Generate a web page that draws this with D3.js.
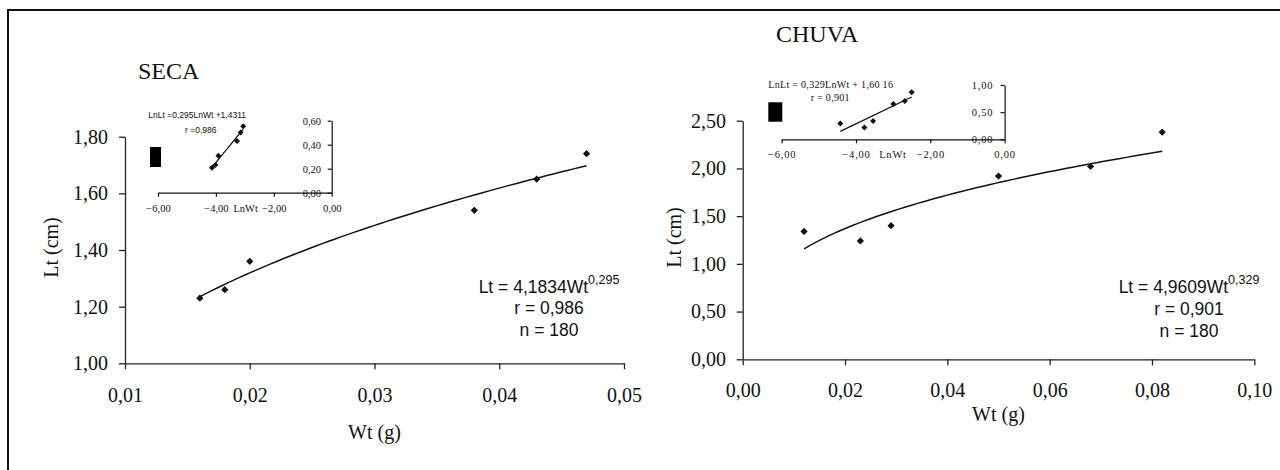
<!DOCTYPE html>
<html>
<head>
<meta charset="utf-8">
<script src="https://cdn.jsdelivr.net/npm/d3@7"></script>
<style>
  body { margin: 0; background: #fff; }
  svg { display: block; }
</style>
</head>
<body>
<div id="chart"></div>
<script>
// data (Wt in g, Lt in cm)
const secaWt = [0.016, 0.018, 0.020, 0.038, 0.043, 0.047];
const secaLt = [1.23, 1.26, 1.36, 1.54, 1.65, 1.74];
const chuvaWt = [0.012, 0.023, 0.029, 0.050, 0.068, 0.082];
const chuvaLt = [1.34, 1.24, 1.40, 1.92, 2.02, 2.38];

// power fits Lt = a * Wt^b, and ln form LnLt = b*LnWt + lnA
const secaFit = [4.1834, 0.295, 1.4311];
const chuvaFit = [4.9609, 0.329, 1.6016];

const secaXTicks = [0.01, 0.02, 0.03, 0.04, 0.05];
const secaYTicks = [1.00, 1.20, 1.40, 1.60, 1.80];
const chuvaXTicks = [0.00, 0.02, 0.04, 0.06, 0.08, 0.10];
const chuvaYTicks = [0.00, 0.50, 1.00, 1.50, 2.00, 2.50];
const insetXTicks = [-6, -4, -2, 0];
const secaInsetYTicks = [0.00, 0.20, 0.40, 0.60];
const chuvaInsetYTicks = [0.00, 0.50, 1.00];

const secaText = ['Lt = 4,1834Wt', '0,295', 'r = 0,986', 'n = 180'];
const chuvaText = ['Lt = 4,9609Wt', '0,329', 'r = 0,901', 'n = 180'];
const secaInsetText = ['LnLt =0,295LnWt +1,4311', 'r =0,986'];
const chuvaInsetText = ['LnLt = 0,329LnWt + 1,60 16', 'r = 0,901'];

const width = 1280, height = 470;
const SERIF = '"Liberation Serif", "Times New Roman", serif';
const SANS = '"Liberation Sans", Arial, sans-serif';
const locale = d3.formatLocale({ decimal: ',', thousands: '.', grouping: [3], currency: ['', ''] });
const fmt2 = locale.format('.2f');

const svg = d3.select('#chart').append('svg')
    .attr('width', width)
    .attr('height', height);

// outer frame (only top and left edges fall inside the picture)
svg.append('rect')
    .attr('x', 8).attr('y', 10)
    .attr('width', 1300).attr('height', 500)
    .attr('fill', 'none')
    .attr('stroke', '#111')
    .attr('stroke-width', 2);

const diamond = r => `M0,${-r}L${r},0L0,${r}L${-r},0Z`;

const panels = [
    {
        title: 'SECA', titleX: 138, titleY: 79,
        wt: secaWt, lt: secaLt, fit: secaFit,
        xTicks: secaXTicks, yTicks: secaYTicks,
        xRange: [125, 624], yRange: [363.3, 136.7],
        xPad: 18.5, yPad: 11,
        yLabel: [58, 247.5], xLabel: [374.5, 439],
        text: secaText, textX: 549, textY: [292.7, 314, 335.5],
        inset: {
            xRange: [158, 331.7], yRange: [192.7, 120.7], yTicks: secaInsetYTicks,
            text: secaInsetText, textFont: SANS, textSize: 8.5, spacing: 0,
            textPos: [[148.3, 118.3], [185, 133.3]],
            lnWtX: 245.7, xPad: 7.7, yPad: 6.7, letter: 0,
            box: [150, 147, 11, 20]
        }
    },
    {
        title: 'CHUVA', titleX: 776, titleY: 42.3,
        wt: chuvaWt, lt: chuvaLt, fit: chuvaFit,
        xTicks: chuvaXTicks, yTicks: chuvaYTicks,
        xRange: [742.7, 1254.3], yRange: [359.3, 120.7],
        xPad: 17.8, yPad: 10.7,
        yLabel: [681, 237.5], xLabel: [998.5, 420.5],
        text: chuvaText, textX: 1189, textY: [292.5, 314.5, 337],
        inset: {
            xRange: [781.7, 1004.6], yRange: [139.3, 85], yTicks: chuvaInsetYTicks,
            text: chuvaInsetText, textFont: SERIF, textSize: 10, spacing: 0.3,
            textPos: [[768.3, 87.7], [810.7, 101]],
            lnWtX: 893, xPad: 7.3, yPad: 7.3, letter: 0.8,
            box: [768.3, 102.3, 14, 19.4]
        }
    }
];

panels.forEach(p => {
    const g = svg.append('g');
    const x = d3.scaleLinear().domain(d3.extent(p.xTicks)).range(p.xRange);
    const y = d3.scaleLinear().domain(d3.extent(p.yTicks)).range(p.yRange);

    g.append('text')
        .attr('font-family', SERIF)
        .attr('x', p.titleX).attr('y', p.titleY)
        .attr('font-size', 24)
        .attr('fill', '#111')
        .text(p.title);

    // axes
    const xAxis = g.append('g')
        .attr('transform', `translate(0,${p.yRange[0]})`)
        .call(d3.axisBottom(x).tickValues(p.xTicks).tickFormat(fmt2).tickSize(6).tickPadding(p.xPad).tickSizeOuter(0));
    const yAxis = g.append('g')
        .attr('transform', `translate(${p.xRange[0]},0)`)
        .call(d3.axisLeft(y).tickValues(p.yTicks).tickFormat(fmt2).tickSize(6).tickPadding(p.yPad).tickSizeOuter(0));

    [xAxis, yAxis].forEach(a => {
        a.attr('font-family', SERIF).attr('font-size', 20);
        a.selectAll('path, line').attr('stroke', '#222').attr('stroke-width', 1.3);
        a.selectAll('text')
            .attr('font-family', SERIF)
            .attr('font-size', 20)
            .attr('fill', '#111');
    });

    g.append('text')
        .attr('font-family', SERIF)
        .attr('transform', `translate(${p.yLabel[0]},${p.yLabel[1]}) rotate(-90)`)
        .attr('text-anchor', 'middle')
        .attr('font-size', 20)
        .attr('fill', '#111')
        .text('Lt (cm)');

    g.append('text')
        .attr('font-family', SERIF)
        .attr('x', p.xLabel[0]).attr('y', p.xLabel[1])
        .attr('text-anchor', 'middle')
        .attr('font-size', 20)
        .attr('fill', '#111')
        .text('Wt (g)');

    // fitted power curve over the range of the data
    const [a, b] = p.fit;
    const wMin = d3.min(p.wt), wMax = d3.max(p.wt);
    const curve = d3.range(0, 61).map(i => {
        const w = wMin + (wMax - wMin) * i / 60;
        return [w, a * Math.pow(w, b)];
    });
    g.append('path')
        .datum(curve)
        .attr('fill', 'none')
        .attr('stroke', '#111')
        .attr('stroke-width', 1.5)
        .attr('d', d3.line().x(d => x(d[0])).y(d => y(d[1])));

    g.selectAll('.pt')
        .data(p.wt.map((w, i) => [w, p.lt[i]]))
        .join('path')
        .attr('class', 'pt')
        .attr('transform', d => `translate(${x(d[0])},${y(d[1])})`)
        .attr('d', diamond(3.6))
        .attr('fill', '#111');

    // equation block
    const eq = g.append('text')
        .attr('font-family', SANS)
        .attr('x', p.textX).attr('y', p.textY[0])
        .attr('text-anchor', 'middle')
        .attr('font-size', 17.5)
        .attr('fill', '#111');
    eq.append('tspan').text(p.text[0]);
    eq.append('tspan').attr('dy', -9).attr('font-size', 12.5).text(p.text[1]);
    [p.text[2], p.text[3]].forEach((t, i) => {
        g.append('text')
            .attr('font-family', SANS)
            .attr('x', p.textX).attr('y', p.textY[i + 1])
            .attr('text-anchor', 'middle')
            .attr('font-size', 17.5)
            .attr('fill', '#111')
            .text(t);
    });

    // log-log inset
    const ins = p.inset;
    const ix = d3.scaleLinear().domain(d3.extent(insetXTicks)).range(ins.xRange);
    const iy = d3.scaleLinear().domain(d3.extent(ins.yTicks)).range(ins.yRange);
    const ig = g.append('g');

    const ixAxis = ig.append('g')
        .attr('transform', `translate(0,${ins.yRange[0]})`)
        .call(d3.axisBottom(ix).tickValues(insetXTicks).tickFormat(fmt2).tickSize(4).tickPadding(ins.xPad).tickSizeOuter(0));
    const iyAxis = ig.append('g')
        .attr('transform', `translate(${ins.xRange[1]},0)`)
        .call(d3.axisLeft(iy).tickValues(ins.yTicks).tickFormat(fmt2).tickSize(4).tickPadding(ins.yPad).tickSizeOuter(0));
    [ixAxis, iyAxis].forEach(a => {
        a.attr('font-family', SERIF).attr('font-size', 10.5);
        a.selectAll('path, line').attr('stroke', '#111').attr('stroke-width', 1.2);
        a.selectAll('text')
            .attr('font-family', SERIF)
            .attr('font-size', 10.5)
            .attr('letter-spacing', ins.letter)
            .attr('fill', '#111');
    });

    ig.append('text')
        .attr('font-family', SERIF)
        .attr('x', ins.lnWtX).attr('y', ins.yRange[0] + 4 + ins.xPad)
        .attr('dy', '0.71em')
        .attr('text-anchor', 'middle')
        .attr('font-size', 10.5)
        .attr('letter-spacing', ins.letter)
        .attr('fill', '#111')
        .text('LnWt');

    ig.append('rect')
        .attr('x', ins.box[0]).attr('y', ins.box[1])
        .attr('width', ins.box[2]).attr('height', ins.box[3])
        .attr('fill', '#000');

    const lnPts = p.wt.map((w, i) => [Math.log(w), Math.log(p.lt[i])]);
    const lnMin = d3.min(lnPts, d => d[0]), lnMax = d3.max(lnPts, d => d[0]);
    ig.append('path')
        .datum([lnMin, lnMax].map(v => [v, b * v + p.fit[2]]))
        .attr('fill', 'none')
        .attr('stroke', '#111')
        .attr('stroke-width', 1.3)
        .attr('d', d3.line().x(d => ix(d[0])).y(d => iy(d[1])));

    ig.selectAll('.ipt')
        .data(lnPts)
        .join('path')
        .attr('class', 'ipt')
        .attr('transform', d => `translate(${ix(d[0])},${iy(d[1])})`)
        .attr('d', diamond(3))
        .attr('fill', '#111');

    ins.text.forEach((t, i) => {
        ig.append('text')
            .attr('font-family', ins.textFont)
            .attr('x', ins.textPos[i][0]).attr('y', ins.textPos[i][1])
            .attr('font-size', ins.textSize)
            .attr('letter-spacing', ins.spacing)
            .attr('fill', '#111')
            .text(t);
    });
});
</script>
</body>
</html>
